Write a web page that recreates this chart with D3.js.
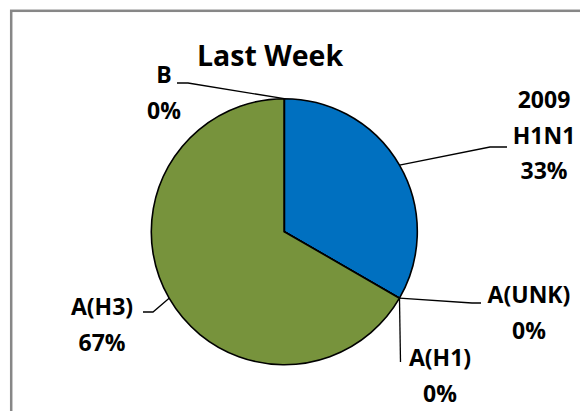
<!DOCTYPE html>
<html>
<head>
<meta charset="utf-8">
<script src="https://cdn.jsdelivr.net/npm/d3@7"></script>
<style>
  body { margin: 0; background: white; }
  text { font-family: "Open Sans", Lato, sans-serif; font-weight: bold; fill: black; }
</style>
</head>
<body>
<div id="chart"></div>
<script>
let w = 580;
let h = 411;

// data
let categories = ["2009 H1N1", "A(UNK)", "A(H1)", "A(H3)", "B"];
let counts = [1, 0, 0, 2, 0];
let colors = ["#0070C0", "#C0504D", "#9BBB59", "#77933C", "#4BACC6"];
let titleText = "Last Week";

// label layout: text lines anchor, elbow point, end of leader (positions only)
let labelLayout = {
  "2009 H1N1": { lines: ["2009", "H1N1"], x: 544, y: 108, elbow: [490, 147], end: [507, 147] },
  "A(UNK)":    { lines: ["A(UNK)"], x: 529, y: 303, elbow: [472, 303], end: [481, 303] },
  "A(H1)":     { lines: ["A(H1)"], x: 440, y: 366, elbow: [400.5, 362], end: [400.5, 362] },
  "A(H3)":     { lines: ["A(H3)"], x: 102, y: 315, elbow: [153, 312], end: [143, 312] },
  "B":         { lines: ["B"], x: 164, y: 83, elbow: [188, 83], end: [177, 83] }
};

let cx = 284.3, cy = 231.7, r = 133;

let viz = d3.select("#chart")
  .append("svg")
  .attr("width", w)
  .attr("height", h);

// chart border (only top/left visible in the crop)
viz.append("rect")
  .attr("x", 11.2)
  .attr("y", 10.8)
  .attr("width", 700)
  .attr("height", 600)
  .attr("fill", "white")
  .attr("stroke", "#878787")
  .attr("stroke-width", 2.5);

viz.append("text")
  .attr("x", 270)
  .attr("y", 65.5)
  .attr("text-anchor", "middle")
  .style("font-size", "28.5px")
  .text(titleText);

let pieData = d3.pie().sort(null)(counts);
let arc = d3.arc().innerRadius(0).outerRadius(r);

let g = viz.append("g").attr("transform", "translate(" + cx + "," + cy + ")");

g.selectAll(".slice").data(pieData).enter()
  .append("path")
  .attr("class", "slice")
  .attr("d", arc)
  .attr("fill", function(d, i){ return colors[i]; })
  .attr("stroke", "black")
  .attr("stroke-width", 1.6)
  .attr("stroke-linejoin", "round");

// leader lines + labels
let total = d3.sum(counts);
pieData.forEach(function(d, i){
  let name = categories[i];
  let lay = labelLayout[name];
  let mid = (d.startAngle + d.endAngle) / 2;
  let px = cx + r * Math.sin(mid);
  let py = cy - r * Math.cos(mid);
  let pts = [[px, py], lay.elbow, lay.end];
  viz.append("path")
    .attr("d", d3.line()(pts))
    .attr("fill", "none")
    .attr("stroke", "black")
    .attr("stroke-width", 1.3);

  let pct = Math.round(counts[i] / total * 100) + "%";
  let lines = lay.lines.concat([pct]);
  let t = viz.append("text")
    .attr("text-anchor", "middle")
    .style("font-size", "23px");
  lines.forEach(function(s, j){
    t.append("tspan")
      .attr("x", lay.x)
      .attr("y", lay.y + j * 35.5)
      .text(s);
  });
});
</script>
</body>
</html>
